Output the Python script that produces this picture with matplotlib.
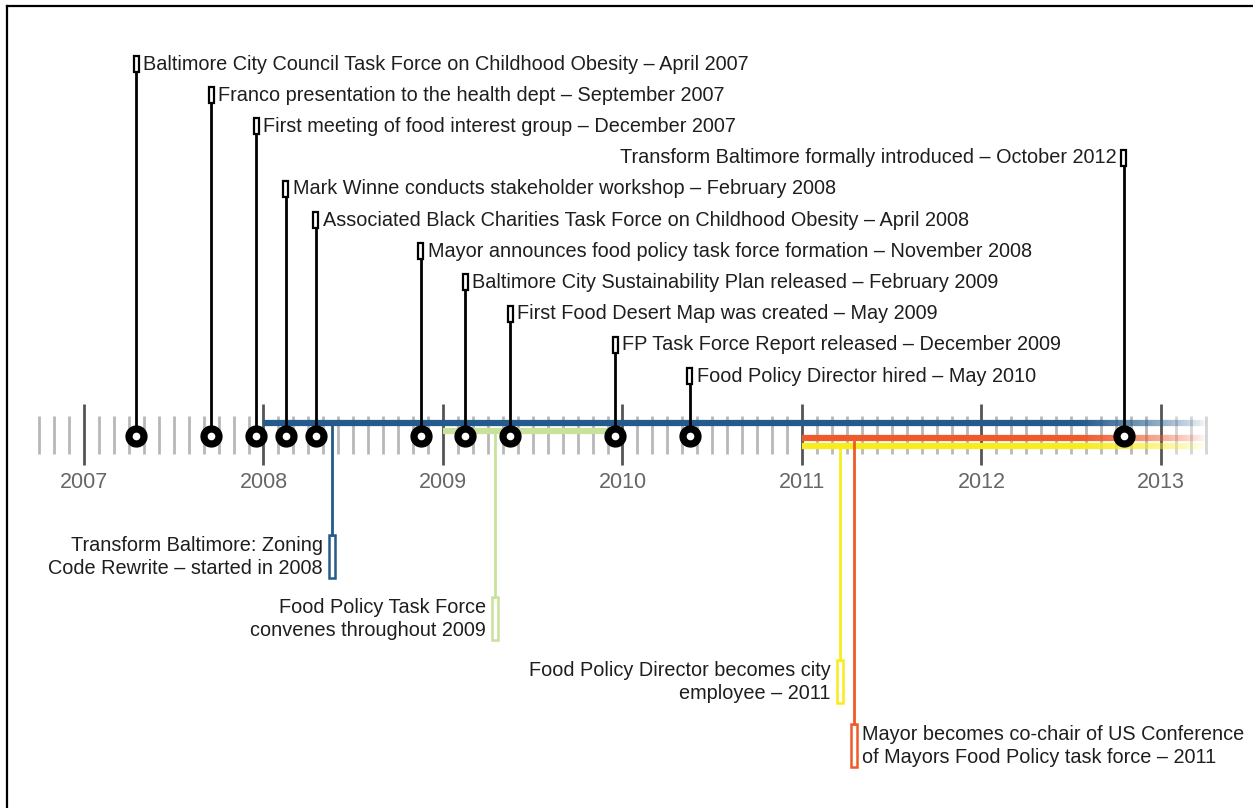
import numpy as np
import matplotlib.pyplot as plt
from matplotlib.patches import Rectangle
from matplotlib.collections import LineCollection

plt.rcParams['font.family'] = ['Liberation Sans', 'DejaVu Sans']

# ---- data ----
years = [2007, 2008, 2009, 2010, 2011, 2012, 2013]

milestones = [
    'Baltimore City Council Task Force on Childhood Obesity \u2013 April 2007',
    'Franco presentation to the health dept \u2013 September 2007',
    'First meeting of food interest group \u2013 December 2007',
    'Transform Baltimore formally introduced \u2013 October 2012',
    'Mark Winne conducts stakeholder workshop \u2013 February 2008',
    'Associated Black Charities Task Force on Childhood Obesity \u2013 April 2008',
    'Mayor announces food policy task force formation \u2013 November 2008',
    'Baltimore City Sustainability Plan released \u2013 February 2009',
    'First Food Desert Map was created \u2013 May 2009',
    'FP Task Force Report released \u2013 December 2009',
    'Food Policy Director hired \u2013 May 2010',
]
milestone_year = [2007, 2007, 2007, 2012, 2008, 2008, 2008, 2009, 2009, 2009, 2010]
milestone_month = [4, 9, 12, 10, 2, 4, 11, 2, 5, 12, 5]

periods = [
    'Transform Baltimore: Zoning\nCode Rewrite \u2013 started in 2008',
    'Food Policy Task Force\nconvenes throughout 2009',
    'Food Policy Director becomes city\nemployee \u2013 2011',
    'Mayor becomes co-chair of US Conference\nof Mayors Food Policy task force \u2013 2011',
]
period_start = [2008.0, 2009.0, 2011.0, 2011.0]
period_end = [2013.25, 2009.96, 2013.25, 2013.25]
period_stem = [2008.38, 2009.29, 2011.21, 2011.29]
period_colors = ['#245b8c', '#c8e29c', '#f8ec1c', '#ef5a2a']

# ---- layout (pixels) ----
W, H = 1253, 808
PPY = 179.5          # pixels per year
X0 = 84              # pixel of 2007
FS = 14.3
px = lambda p: p / PPY

fig = plt.figure(figsize=(W / 100, H / 100), dpi=100)
ax = fig.add_axes([0, 0, 1, 1])
ax.set_xlim(2007 - X0 / PPY, 2007 + (W - X0) / PPY)
ax.set_ylim(H, 0)
ax.axis('off')

# frame on top and left
ax.plot([2007 - 77 / PPY] * 2, [6, H], color='black', lw=1.6)
ax.plot([2007 - 77 / PPY, 2014], [6, 6], color='black', lw=1.6)

# tick ruler
months = np.arange(2006.75, 2013.25 + 1e-6, 1 / 12)
for m in months:
    if abs(m - round(m)) < 1e-6:
        ax.plot([m, m], [404, 465], color='#555555', lw=2, solid_capstyle='butt', zorder=1)
    else:
        a = 1.0 if m < 2013 else 0.6
        ax.plot([m, m], [416, 454], color='#b8b8b8', lw=2, alpha=a,
                solid_capstyle='butt', zorder=1)
for yr in years:
    ax.text(yr, 482, str(yr), ha='center', va='center', fontsize=15.5, color='#666666')

# period bars, fading at the right end
band_y = [423, 431, 446, 438]
for s, e, c, y in zip(period_start, period_end, period_colors, band_y):
    if e > 2013:
        xs = np.linspace(s, e, 300)
        segs = [[(xs[i], y), (xs[i + 1], y)] for i in range(len(xs) - 1)]
        mids = (xs[:-1] + xs[1:]) / 2
        alpha = np.clip((e - mids) / (e - 2012.55), 0, 1) ** 0.7
        rgba = [plt.matplotlib.colors.to_rgba(c, a) for a in alpha]
        ax.add_collection(LineCollection(segs, colors=rgba, linewidths=4.5, zorder=2,
                                         capstyle='butt'))
    else:
        ax.plot([s, e], [y, y], color=c, lw=4.5, solid_capstyle='butt', zorder=2)

# period stems and labels below
box_bottom = [578, 640, 703, 767]
for lab, sx, c, y, yb in zip(periods, period_stem, period_colors, band_y, box_bottom):
    ax.plot([sx, sx], [y, yb - 43], color=c, lw=2, zorder=2)
    ax.add_patch(Rectangle((sx - px(3), yb - 43), px(6), 43, fill=False,
                           edgecolor=c, lw=1.8, zorder=3))
    if lab.startswith('Mayor'):
        ax.text(sx + px(8), yb - 21, lab, ha='left', va='center', fontsize=FS,
                color='#1e1e1e', linespacing=1.3)
    else:
        ax.text(sx - px(9), yb - 21, lab, ha='right', va='center', fontsize=FS,
                color='#1e1e1e', linespacing=1.3, multialignment='right')

# milestones above
for i, (lab, y, mth) in enumerate(zip(milestones, milestone_year, milestone_month)):
    x = y + (mth - 0.5) / 12
    ty = 64 + 31.2 * i
    ax.plot([x, x], [436, ty + 8], color='black', lw=2, zorder=4)
    ax.add_patch(Rectangle((x - px(2.5), ty - 8), px(5), 16, fill=True,
                           facecolor='white', edgecolor='black', lw=1.6, zorder=5))
    ax.plot(x, 436, 'o', color='black', ms=15, zorder=6)
    ax.plot(x, 436, 'o', color='white', ms=4.5, zorder=7)
    if y == 2012:
        ax.text(x - px(7), ty, lab, ha='right', va='center', fontsize=FS, color='#1e1e1e')
    else:
        ax.text(x + px(7), ty, lab, ha='left', va='center', fontsize=FS, color='#1e1e1e')

fig.savefig('out.png', dpi=100)
